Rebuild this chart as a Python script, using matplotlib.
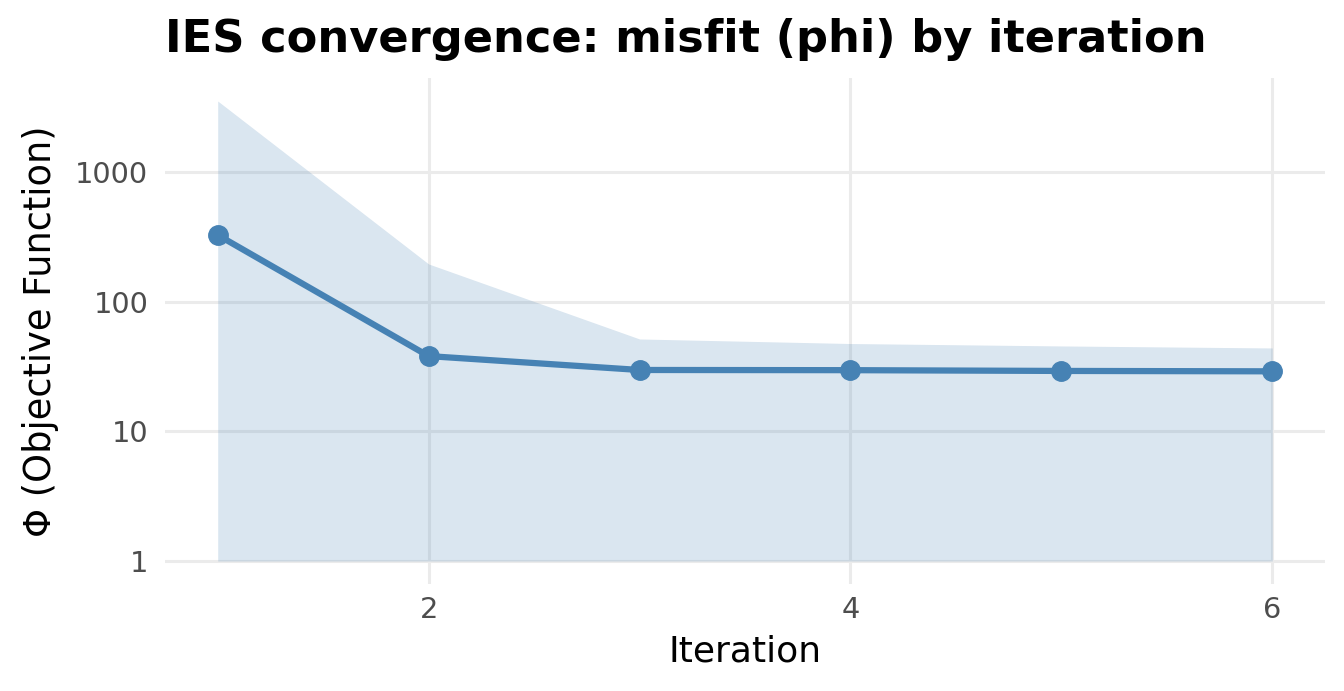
import numpy as np
import matplotlib.pyplot as plt
from matplotlib.ticker import FixedLocator, FixedFormatter, NullLocator

plt.rcParams["font.family"] = ["DejaVu Sans"]

# data
iteration = [1, 2, 3, 4, 5, 6]
phi_mean = [326, 38, 29.7, 29.6, 29.2, 29.0]
phi_lo = [1, 1, 1, 1, 1, 1]
phi_hi = [3520, 195, 51.5, 47.5, 45.5, 43.9]

y_ticks = [1, 10, 100, 1000]
y_labels = ["1", "10", "100", "1000"]
x_ticks = [2, 4, 6]

steel = "#4682B4"
grid_col = "#EBEBEB"

fig = plt.figure(figsize=(13.44, 6.91), dpi=100)
ax = fig.add_axes([165 / 1344, 1 - 584 / 691, 1160 / 1344, 506 / 691])

ax.set_yscale("log")
ax.fill_between(iteration, phi_lo, phi_hi, color=steel, alpha=0.2, linewidth=0, zorder=2)
ax.plot(iteration, phi_mean, color=steel, lw=4.5, marker="o", ms=14, zorder=3)

# ggplot-like 5% expansion
x0, x1 = min(iteration), max(iteration)
dx = (x1 - x0) * 0.05
ax.set_xlim(x0 - dx, x1 + dx)
lo, hi = np.log10(min(phi_lo)), np.log10(max(phi_hi))
dy = (hi - lo) * 0.05
ax.set_ylim(10 ** (lo - dy), 10 ** (hi + dy))

ax.yaxis.set_major_locator(FixedLocator(y_ticks))
ax.yaxis.set_major_formatter(FixedFormatter(y_labels))
ax.yaxis.set_minor_locator(NullLocator())
ax.set_xticks(x_ticks)
ax.set_xticklabels([str(v) for v in x_ticks])

ax.grid(True, color=grid_col, lw=2.2, zorder=1)
ax.set_axisbelow(True)
for s in ax.spines.values():
    s.set_visible(False)
ax.tick_params(axis="y", length=0, labelsize=20.8, labelcolor="#4D4D4D", pad=12)
ax.tick_params(axis="x", length=0, labelsize=20.8, labelcolor="#4D4D4D", pad=9)

ax.set_xlabel("Iteration", fontsize=26, labelpad=7)
ax.set_ylabel("Φ (Objective Function)", fontsize=26.5, labelpad=12)
fig.text(165 / 1344, 1 - 52 / 691, "IES convergence: misfit (phi) by iteration",
         fontsize=32.2, fontweight="bold", ha="left", va="baseline")

fig.savefig("out.png", dpi=100, facecolor="white")
